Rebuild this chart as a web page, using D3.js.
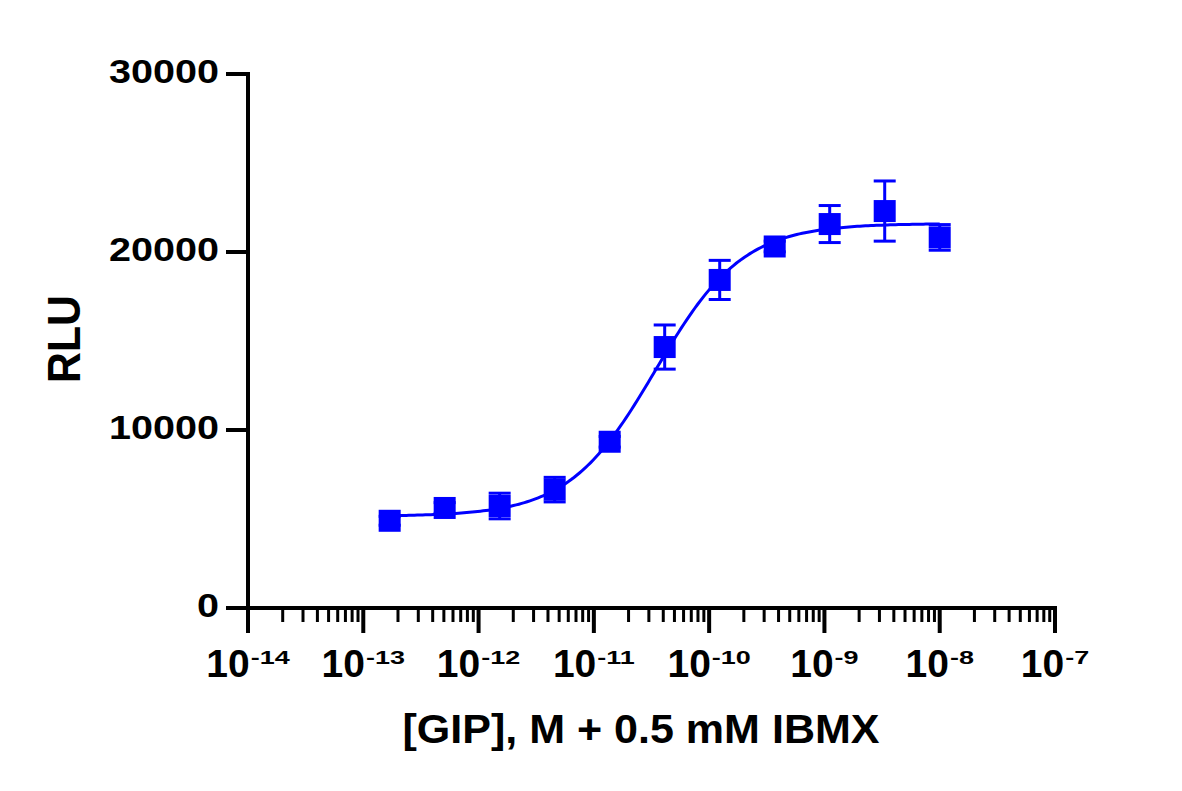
<!DOCTYPE html>
<html>
<head>
<meta charset="utf-8">
<script src="https://cdn.jsdelivr.net/npm/d3@7"></script>
<style>
  html, body { margin: 0; padding: 0; background: #fff; }
  text { font-family: "Liberation Sans", Arial, Helvetica, sans-serif; font-weight: bold; fill: #000; }
</style>
</head>
<body>
<svg id="chart" width="1182" height="791"></svg>
<script>
// ---- data ----
const concentrations = [1.694e-13, 5.081e-13, 1.524e-12, 4.572e-12, 1.372e-11, 4.115e-11, 1.235e-10, 3.704e-10, 1.111e-9, 3.333e-9, 1.0e-8];
const rluMean = [4900, 5620, 5730, 6650, 9340, 14660, 18430, 20310, 21570, 22300, 20820];
const rluSD   = [250, 300, 720, 690, 300, 1240, 1100, 300, 1040, 1690, 720];
// four-parameter logistic fit (bottom, top, logEC50, hill)
const fitBottom = 5150;
const fitTop = 21600;
const fitLogEC50 = -10.464;
const fitHill = 1.15;
const yTickValues = [0, 10000, 20000, 30000];
const xMajorExponents = [-14, -13, -12, -11, -10, -9, -8, -7];
const xTitle = "[GIP], M + 0.5 mM IBMX";
const yTitle = "RLU";

// ---- layout ----
const svg = d3.select("#chart");
const blue = "#0000FF";
const x = d3.scaleLog().domain([1e-14, 1e-7]).range([248, 1055]);
const y = d3.scaleLinear().domain([0, 30000]).range([608, 74]);

// axes lines
const axisG = svg.append("g");
axisG.append("line").attr("x1", x(1e-14)).attr("x2", x(1e-14)).attr("y1", y(30000) - 2).attr("y2", y(0))
  .attr("stroke", "#000").attr("stroke-width", 4);
axisG.append("line").attr("x1", x(1e-14) - 2).attr("x2", x(1e-7) + 2).attr("y1", y(0)).attr("y2", y(0))
  .attr("stroke", "#000").attr("stroke-width", 4);

// y ticks
yTickValues.forEach(v => {
  axisG.append("line").attr("x1", x(1e-14) - 22).attr("x2", x(1e-14)).attr("y1", y(v)).attr("y2", y(v))
    .attr("stroke", "#000").attr("stroke-width", 4);
  const s = String(v);
  axisG.append("text").attr("x", 219).attr("y", y(v) + 9)
    .attr("text-anchor", "end").attr("font-size", 33)
    .attr("textLength", s.length * 22).attr("lengthAdjust", "spacingAndGlyphs")
    .text(s);
});

// x ticks: minor from scale ticks
const allTicks = x.ticks();
const majorVals = xMajorExponents.map(e => Math.pow(10, e));
const isMajor = v => majorVals.some(m => Math.abs(Math.log10(v) - Math.log10(m)) < 1e-6);
allTicks.filter(v => !isMajor(v)).forEach(v => {
  axisG.append("line").attr("x1", x(v)).attr("x2", x(v)).attr("y1", y(0)).attr("y2", y(0) + 14)
    .attr("stroke", "#000").attr("stroke-width", 3);
});
xMajorExponents.forEach(e => {
  const px = x(Math.pow(10, e));
  axisG.append("line").attr("x1", px).attr("x2", px).attr("y1", y(0)).attr("y2", y(0) + 25)
    .attr("stroke", "#000").attr("stroke-width", 4);
  const g = axisG.append("g");
  const base = g.append("text").attr("x", 0).attr("y", 677).attr("font-size", 39).text("10");
  const adv = base.node().getComputedTextLength();
  g.append("text").attr("transform", `translate(${adv + 1},664) scale(1.42,1)`)
    .attr("font-size", 19).text(String(e));
  const bb = g.node().getBBox();
  g.attr("transform", `translate(${px - bb.x - bb.width / 2},0)`);
});

// titles
svg.append("text").attr("x", 641).attr("y", 743).attr("text-anchor", "middle")
  .attr("font-size", 41).attr("textLength", 477).attr("lengthAdjust", "spacingAndGlyphs").text(xTitle);
svg.append("text").attr("transform", "translate(80,339) rotate(-90)").attr("text-anchor", "middle")
  .attr("font-size", 46).attr("textLength", 88).attr("lengthAdjust", "spacingAndGlyphs").text(yTitle);

// fit curve
const fit = lx => fitBottom + (fitTop - fitBottom) / (1 + Math.pow(10, (fitLogEC50 - lx) * fitHill));
const lmin = Math.log10(concentrations[0]), lmax = Math.log10(concentrations[concentrations.length - 1]);
const curvePts = d3.range(0, 201).map(i => lmin + (lmax - lmin) * i / 200);
const line = d3.line().x(lx => x(Math.pow(10, lx))).y(lx => y(fit(lx))).curve(d3.curveLinear);
svg.append("path").attr("d", line(curvePts)).attr("fill", "none").attr("stroke", blue).attr("stroke-width", 3);

// error bars + markers
const pts = concentrations.map((c, i) => ({ c, m: rluMean[i], sd: rluSD[i] }));
const eb = svg.append("g").attr("stroke", blue).attr("stroke-width", 3);
pts.forEach(d => {
  const px = x(d.c);
  eb.append("line").attr("x1", px).attr("x2", px).attr("y1", y(d.m + d.sd)).attr("y2", y(d.m - d.sd));
  [d.m + d.sd, d.m - d.sd].forEach(v => {
    eb.append("line").attr("x1", px - 11).attr("x2", px + 11).attr("y1", y(v)).attr("y2", y(v));
  });
});
svg.append("g").selectAll("rect").data(pts).join("rect")
  .attr("x", d => x(d.c) - 11).attr("y", d => y(d.m) - 11)
  .attr("width", 22).attr("height", 22).attr("fill", blue);
</script>
</body>
</html>
